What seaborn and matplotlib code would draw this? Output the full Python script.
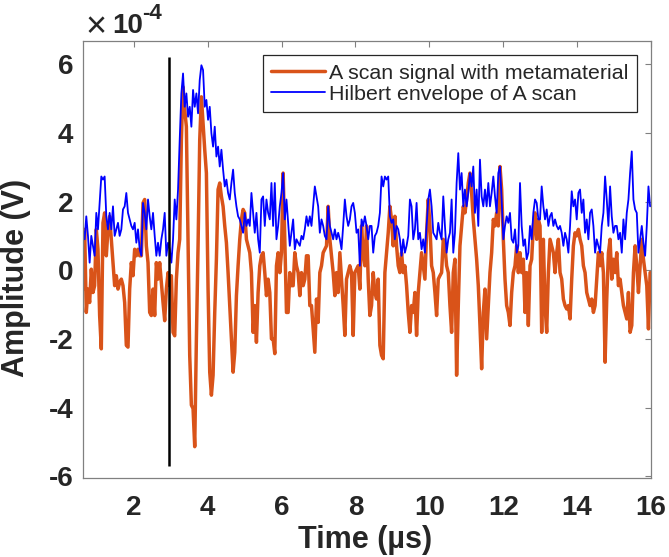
import numpy as np
import pandas as pd
import matplotlib
matplotlib.use("Agg")
import matplotlib.pyplot as plt
import seaborn as sns
from matplotlib.ticker import FuncFormatter, MultipleLocator

t_start = 0.62          # µs, first read-off sample
dt = 0.04517            # µs, spacing of the read-off samples
signal_e4 = [
    # 0.62 - 3.06 µs
    -0.55, 1.19, -1.23, -0.55, -0.94, 0.03, -0.65, -0.45, 1.19, 0.61,
    -1.32, -2.29, 1.38, 1.67, 0.42, 1.19, 1.57, 0.90, 0.22, -0.45,
    -0.16, -0.55, -0.36, -0.26, -0.45, -0.94, -2.19, -2.24, -0.55, 0.22,
    -0.16, 0.61, 0.42, 0.61, 0.42, 0.42, 1.96, 2.06, 0.71, 0.22,
    -1.23, -1.32, -0.55, -1.32, 0.22, -0.26, 0.22, -0.36, -0.94, -1.47,
    -0.55, -0.07, -0.45, -0.16, -1.81,
    # 3.1 - 5.6 µs
    -1.91, -0.26, 0.51, 0.90, 3.80, 5.34, 4.67, 4.18, 0.90, -2.48,
    -3.93, -4.03, -5.14, -2.00, 0.71, 3.80, 5.05, 4.28, 3.51, 2.83,
    -0.55, -2.97, -3.64, -3.06, -1.23, 0.32, 2.35, 2.54, 2.15, 1.86,
    1.29, 0.80, -0.07, -1.03, -2.00, -2.97, -2.39, -0.74, 0.13, 0.90,
    1.48, 1.77, 1.67, 0.90, 0.71, 0.51, -0.07, -1.81, -1.03, -2.10,
    -0.65, 0.13, 0.42, 0.51, -0.07, -0.74,
    # 5.6 - 8.1 µs
    -0.26, -0.65, -2.00, -2.00, -2.43, 0.13, 0.51, -0.07, 0.51, 2.83,
    0.90, -1.23, -1.23, -0.07, -0.45, -0.45, 0.51, 0.13, -0.07, -0.74,
    -0.07, -0.45, -0.26, 0.42, 0.42, -1.03, -1.03, -1.71, -2.39, -0.84,
    -1.52, -0.07, 0.13, 0.51, 0.61, 0.71, 1.86, 0.90, 0.42, -0.07,
    -0.74, -0.07, -0.65, 0.51, -0.26, -1.03, -1.90, -0.26, -0.07, 0.13,
    -0.07, -1.90, -0.07, 0.03, 0.13,
    # 8.1 - 10.6 µs
    -0.55, 1.29, 0.51, 0.13, 1.29, -0.26, -1.32, -1.03, -0.07, -0.65,
    -0.84, -0.26, -2.19, -2.48, -2.58, -0.07, 0.51, 1.09, 1.86, 1.48,
    0.71, 1.57, 0.71, 0.13, -0.07, 0.51, -0.07, 0.13, -0.45, -1.23,
    -1.81, -1.03, -1.23, -0.65, -1.90, -0.65, -0.07, 0.51, 0.13, -0.26,
    1.09, 2.06, 1.29, 0.13, -0.07, -0.65, -1.32, -0.26, -0.16, -0.07,
    0.90, 0.71, 0.13, -0.07, -1.03,
    # 10.6 - 13.1 µs
    -1.81, -0.07, 0.32, -3.06, -1.03, 0.71, 1.29, 1.86, 1.67, 2.06,
    2.54, 2.83, 2.25, 1.48, 0.90, 0.32, -0.45, -1.61, -2.87, -1.23,
    -0.55, -2.00, -1.03, -0.07, 0.51, 1.48, 1.29, 1.67, 1.29, 3.02,
    2.35, 0.90, -0.26, -1.03, -1.23, -1.61, -0.65, -0.07, 0.13, 0.71,
    -0.07, 0.51, -0.07, 0.32, -1.23, -0.07, -1.61, 0.13, 0.32, 1.29,
    1.67, 0.90, 1.48, 1.29, -1.81,
    # 13.1 - 16.0 µs
    0.90, -1.03, -1.81, -0.07, 0.90, 0.71, 0.51, -0.07, 0.51, 0.90,
    -0.07, -0.26, -0.84, -1.03, -1.13, -1.03, -1.42, -0.26, 0.71, 1.09,
    1.00, 1.19, 0.90, 0.71, 0.13, -0.07, -0.65, -0.84, -1.03, -0.84,
    -1.23, -1.03, -0.26, 0.51, 0.13, 0.51, -0.07, -2.68, -0.84, 0.51,
    0.90, -0.26, 0.32, -0.07, 0.51, -0.45, -0.26, -0.65, -1.03, -1.23,
    -1.42, -0.65, -1.81, -1.61, -0.07, 0.71, 0.13, -0.65, 0.13, 0.90,
    0.32, -0.07, -0.45, -1.71, -0.07,
]
envelope_e4 = [
    # 0.62 - 3.06 µs
    1.19, 0.90, 1.57, 1.00, 0.22, 1.00, 0.71, 0.42, 1.67, 1.19,
    1.96, 2.73, 2.64, 2.73, 1.57, 1.19, 1.67, 1.19, 1.86, 1.00,
    1.19, 1.38, 1.00, 1.19, 1.77, 1.86, 2.25, 1.67, 1.48, 1.29,
    1.19, 1.38, 0.80, 1.19, 0.61, 0.42, 1.96, 1.67, 1.19, 2.06,
    1.57, 1.19, 1.67, 1.00, 0.42, 0.80, 0.42, 0.90, 1.19, 1.67,
    0.42, 0.80, 0.61, 0.22, 0.90,
    # 3.1 - 5.6 µs
    2.06, 1.48, 2.35, 3.80, 5.15, 5.73, 4.76, 5.15, 4.47, 4.76,
    4.18, 5.25, 4.76, 5.15, 4.57, 5.54, 5.97, 5.83, 4.76, 4.96,
    4.38, 4.76, 3.99, 3.60, 4.18, 3.31, 3.60, 3.02, 3.51, 2.93,
    2.44, 2.64, 2.25, 2.06, 2.54, 2.93, 2.25, 1.86, 1.57, 1.48,
    1.29, 1.09, 1.67, 1.29, 1.48, 1.29, 2.25, 1.67, 1.09, 1.67,
    0.90, 0.51, 2.06, 2.15, 1.29, 2.06,
    # 5.6 - 8.1 µs
    1.67, 1.48, 2.54, 1.29, 2.54, 0.90, 1.29, 1.86, 2.25, 2.83,
    1.48, 2.06, 1.38, 0.71, 1.09, 1.48, 0.61, 0.90, 0.80, 0.71,
    1.00, 0.90, 1.19, 1.57, 1.29, 1.57, 1.29, 1.86, 2.44, 2.15,
    1.86, 1.09, 1.48, 1.29, 1.00, 0.90, 1.86, 1.29, 1.09, 0.90,
    1.19, 0.90, 1.09, 0.90, 0.61, 1.29, 2.06, 1.57, 1.29, 1.48,
    1.86, 1.96, 1.67, 1.09, 1.19,
    # 8.1 - 10.6 µs
    0.13, 1.48, 1.29, 1.57, 1.29, 0.90, 1.29, 1.29, 0.51, 1.00,
    1.09, 1.29, 1.67, 2.73, 2.44, 2.73, 2.64, 2.73, 1.57, 1.38,
    1.48, 0.90, 1.29, 1.19, 0.90, 0.42, 0.90, 0.51, 0.71, 1.00,
    2.06, 1.86, 0.90, 1.19, 1.96, 0.90, 1.09, 0.61, 0.90, 0.51,
    1.29, 2.06, 2.35, 1.86, 1.09, 1.00, 0.90, 1.38, 1.09, 0.90,
    2.15, 1.29, 0.51, 0.90, 1.09,
    # 10.6 - 13.1 µs
    2.06, 0.51, 1.09, 2.54, 3.41, 2.35, 2.83, 1.86, 2.35, 1.86,
    2.25, 2.83, 2.44, 3.02, 1.67, 2.35, 1.29, 3.22, 2.15, 1.86,
    2.35, 1.86, 2.54, 1.86, 2.25, 2.73, 2.15, 1.67, 2.83, 3.02,
    2.06, 0.90, 1.29, 1.57, 1.38, 1.67, 0.90, 0.80, 1.19, 0.51,
    0.71, 2.54, 1.29, 0.71, 0.90, 0.32, 0.51, 1.29, 0.90, 1.67,
    2.06, 1.96, 1.48, 1.48, 2.44,
    # 13.1 - 16.0 µs
    1.86, 1.48, 1.77, 1.29, 1.57, 1.67, 1.29, 1.48, 1.29, 1.19,
    1.29, 1.09, 0.71, 1.09, 0.90, 0.51, 1.29, 2.30, 1.86, 2.06,
    1.48, 2.25, 2.35, 1.67, 2.06, 1.09, 1.48, 0.90, 1.67, 1.77,
    1.29, 0.51, 0.90, 0.71, 0.51, 1.29, 1.67, 2.73, 2.06, 1.29,
    2.44, 1.57, 1.09, 1.29, 1.29, 0.90, 1.09, 0.51, 1.48, 0.90,
    1.67, 2.06, 2.83, 3.46, 2.06, 1.77, 1.67, 0.51, 0.90, 1.29,
    0.80, 0.42, 1.29, 2.44, 1.86,
]
marker_time = 2.95              # µs, vertical marker line
marker_span_e4 = (-5.7, 6.2)    # 1e-4 V
labels = ["A scan signal with metamaterial", "Hilbert envelope of A scan"]
x_ticks = [2, 4, 6, 8, 10, 12, 14, 16]
y_ticks_e4 = [-6, -4, -2, 0, 2, 4, 6]

# ---------------- figure ----------------
sns.set_style("white")
plt.rcParams["font.family"] = ["Liberation Sans", "DejaVu Sans"]
plt.rcParams["font.weight"] = "bold"
plt.rcParams["axes.unicode_minus"] = False

n = min(len(signal_e4), len(envelope_e4))
time = t_start + dt * np.arange(n)
df = pd.DataFrame({
    "time": time,
    "signal": np.array(signal_e4[:n]) * 1e-4,
    "envelope": np.array(envelope_e4[:n]) * 1e-4,
})

W, H = 669, 557
fig = plt.figure(figsize=(W / 100, H / 100), dpi=100)
ax = fig.add_axes([0.124, 0.142, 0.849, 0.784])

sns.lineplot(data=df, x="time", y="signal", ax=ax, color="#D95319", lw=2.5,
             label=labels[0], estimator=None, sort=False)
sns.lineplot(data=df, x="time", y="envelope", ax=ax, color="#0000FF", lw=1.3,
             label=labels[1], estimator=None, sort=False)
ax.vlines(marker_time, marker_span_e4[0] * 1e-4, marker_span_e4[1] * 1e-4,
          color="black", lw=1.8, zorder=5)

ax.set_xlim(0.62, 16.0)
ax.set_ylim(-6.05e-4, 6.67e-4)
ax.set_xticks(x_ticks)
ax.set_yticks([v * 1e-4 for v in y_ticks_e4])
ax.yaxis.set_major_formatter(FuncFormatter(lambda v, p: "%d" % round(v * 1e4)))

for s in ax.spines.values():
    s.set_color("#808080")
    s.set_linewidth(0.9)
ax.tick_params(axis="both", which="major", direction="in", top=True, right=True,
               length=4.5, width=0.8, color="#808080", labelcolor="#262626",
               labelsize=20)
ax.tick_params(axis="x", pad=12)
ax.tick_params(axis="y", pad=7)

ax.set_xlabel("Time (µs)", fontsize=22, fontweight="bold")
ax.set_ylabel("Amplitude (V)", fontsize=22, fontweight="bold")
ax.xaxis.set_label_coords(0.496, -0.108)
ax.yaxis.set_label_coords(-0.092, 0.458)

# MATLAB style exponent label above the y axis
fig.text(86 / W, 1 - 37 / H, "×", fontsize=26, fontweight="normal",
         color="#262626", va="baseline", ha="left")
fig.text(112 / W, 1 - 33 / H, "10", fontsize=20, fontweight="bold",
         color="#262626", va="baseline", ha="left")
fig.text(142 / W, 1 - 19 / H, "-4", fontsize=16, fontweight="bold",
         color="#262626", va="baseline", ha="left")

leg = ax.legend(loc="upper right", frameon=True, fancybox=False,
                edgecolor="#262626", framealpha=1, handlelength=2.5,
                handletextpad=0.2, borderpad=0.4, labelspacing=0.1,
                borderaxespad=0.65, prop={"weight": "normal", "size": 15.4})
leg.get_frame().set_linewidth(0.9)

fig.savefig("out.png", dpi=100)
